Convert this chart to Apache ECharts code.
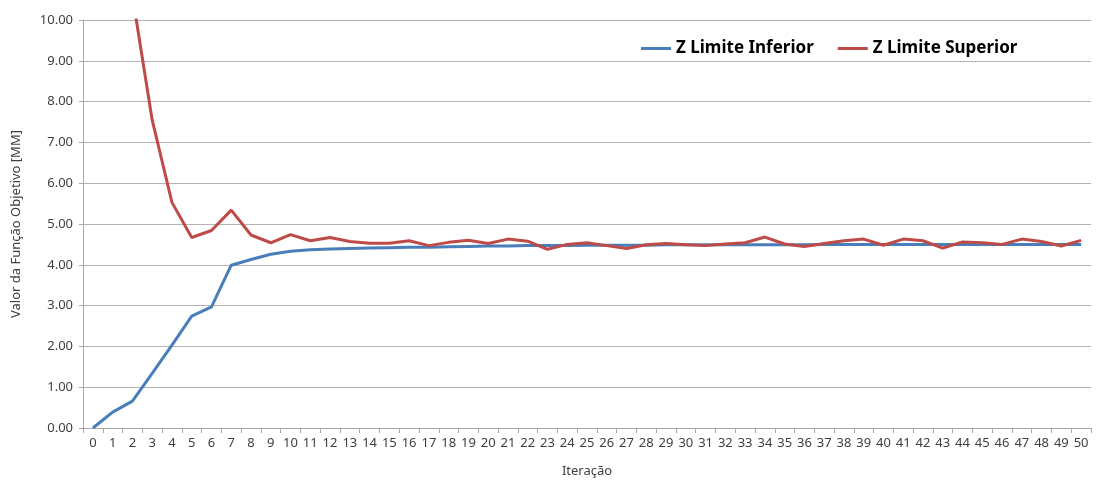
<!DOCTYPE html>
<html>
<head>
<meta charset="utf-8">
<script src="https://cdn.jsdelivr.net/npm/echarts@6/dist/echarts.min.js"></script>
<style>
  html, body { margin: 0; padding: 0; background: #fff; }
  #chart { width: 1097px; height: 480px; }
</style>
</head>
<body>
<div id="chart"></div>
<script>
// iterações 0..50
const iteracoes = [];
for (let i = 0; i <= 50; i++) iteracoes.push(String(i));

// Z Limite Inferior
const zInferior = [
  0.00, 0.39, 0.66, 1.34, 2.03, 2.74, 2.97, 3.99, 4.13, 4.26,
  4.33, 4.37, 4.39, 4.40, 4.41, 4.42, 4.43, 4.43, 4.44, 4.45,
  4.46, 4.46, 4.47, 4.47, 4.47, 4.48, 4.48, 4.48, 4.48, 4.49,
  4.49, 4.49, 4.49, 4.49, 4.49, 4.49, 4.49, 4.50, 4.50, 4.50,
  4.50, 4.50, 4.50, 4.50, 4.50, 4.50, 4.50, 4.50, 4.50, 4.50,
  4.50
];

// Z Limite Superior (0 e 1 fora da escala)
const zSuperior = [
  null, null, 10.6, 7.55, 5.53, 4.67, 4.84, 5.34, 4.73, 4.54,
  4.74, 4.59, 4.67, 4.57, 4.53, 4.53, 4.59, 4.47, 4.55, 4.60,
  4.52, 4.63, 4.58, 4.38, 4.50, 4.54, 4.47, 4.40, 4.49, 4.52,
  4.49, 4.47, 4.51, 4.54, 4.68, 4.51, 4.45, 4.52, 4.59, 4.63,
  4.48, 4.63, 4.59, 4.41, 4.56, 4.54, 4.50, 4.63, 4.57, 4.46,
  4.60
];

const chart = echarts.init(document.getElementById('chart'));
const font = 'Noto Sans, sans-serif';

const option = {
  animation: false,
  textStyle: { fontFamily: font },
  grid: {
    left: 83, right: 6, top: 20, bottom: 52,
    containLabel: false,
    outerBoundsMode: 'none'
  },
  legend: {
    left: 636,
    top: 35,
    icon: 'rect',
    itemWidth: 30,
    itemHeight: 3,
    itemGap: 24,
    textStyle: { fontFamily: font, fontSize: 17, fontWeight: 'bold', color: '#000' },
    data: ['Z Limite Inferior', 'Z Limite Superior']
  },
  xAxis: {
    type: 'category',
    data: iteracoes,
    boundaryGap: true,
    name: 'Iteração',
    nameLocation: 'middle',
    nameGap: 37,
    nameTextStyle: { fontSize: 13, color: '#404040' },
    axisLine: { lineStyle: { color: '#a6a6a6', width: 1 } },
    axisTick: { show: true, length: 5, lineStyle: { color: '#a6a6a6' } },
    axisLabel: { interval: 0, fontSize: 13, color: '#404040', margin: 9 }
  },
  yAxis: {
    type: 'value',
    min: 0,
    max: 10,
    interval: 1,
    name: 'Valor da Função Objetivo [MM]',
    nameLocation: 'middle',
    nameGap: 60,
    nameTextStyle: { fontSize: 13, color: '#404040' },
    axisLine: { show: true, lineStyle: { color: '#a6a6a6', width: 1 } },
    axisTick: { show: true, length: 4, lineStyle: { color: '#a6a6a6' } },
    axisLabel: {
      fontSize: 13, color: '#404040', margin: 10,
      formatter: v => v.toFixed(2)
    },
    splitLine: { lineStyle: { color: '#b3b3b3', width: 1 } }
  },
  series: [
    {
      name: 'Z Limite Inferior',
      type: 'line',
      data: zInferior,
      symbol: 'none',
      clip: true,
      lineStyle: { color: '#4a7ebb', width: 3 },
      itemStyle: { color: '#4a7ebb' }
    },
    {
      name: 'Z Limite Superior',
      type: 'line',
      data: zSuperior,
      symbol: 'none',
      clip: true,
      lineStyle: { color: '#be4b48', width: 3 },
      itemStyle: { color: '#be4b48' }
    }
  ]
};

chart.setOption(option);
</script>
</body>
</html>
